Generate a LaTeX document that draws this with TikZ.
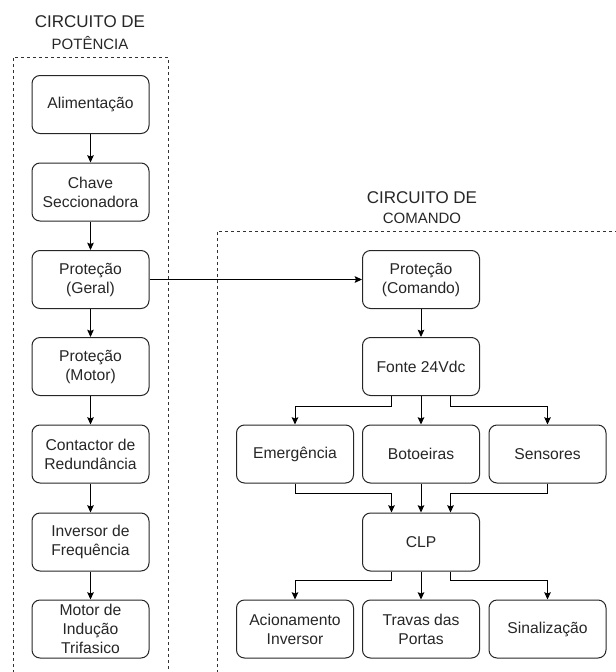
\documentclass[tikz,border=0pt]{standalone}
\usepackage{fontspec}
\setmainfont{Liberation Sans}
\usetikzlibrary{arrows.meta,calc}
\begin{document}
\begin{tikzpicture}[x=0.75pt,y=-0.75pt,
  box/.style={draw=black!85,line width=0.75pt,rounded corners=6pt,minimum width=87.75pt,minimum height=43.5pt,inner sep=0pt,align=center,text=black!85,font=\fontsize{11.75}{14.25}\selectfont},
  arr/.style={draw=black,line width=0.75pt,-{Stealth[length=5.5pt,width=5pt,inset=1pt]}},
  group/.style={draw=black!80,line width=0.75pt,dash pattern=on 2.25pt off 2.25pt},
  ttl/.style={text=black!85,inner sep=0pt,font=\fontsize{12.75}{15}\selectfont},
  ttlb/.style={text=black!85,inner sep=0pt,font=\fontsize{11.25}{14}\selectfont}]
\useasboundingbox (0,0) rectangle (615,672);
% group frames
\draw[group] (13,673) -- (13,57) -- (168,57) -- (168,673);
\draw[group] (217,673) -- (217,231) -- (616,231);
% titles
\node[ttl] (tp1) at (90,22) {CIRCUITO DE};
\node[ttlb] (tp2) at (90,43) {POTÊNCIA};
\node[ttl] (tc1) at (422,198) {CIRCUITO DE};
\node[ttlb] (tc2) at (422,218) {COMANDO};
% power column
\node[box] (ali) at (90.5,104.5) {Alimentação};
\node[box] (cha) at (90.5,192) {Chave\\Seccionadora};
\node[box] (pg) at (90.5,279.5) {Proteção\\(Geral)};
\node[box] (pm) at (90.5,366.5) {Proteção\\(Motor)};
\node[box] (con) at (90.5,454) {Contactor de\\Redundância};
\node[box] (inv) at (90.5,542) {Inversor de\\Frequência};
\node[box] (mot) at (90.5,629) {Motor de\\Indução\\Trifasico};
\draw[arr] (ali) -- (cha);
\draw[arr] (cha) -- (pg);
\draw[arr] (pg) -- (pm);
\draw[arr] (pm) -- (con);
\draw[arr] (con) -- (inv);
\draw[arr] (inv) -- (mot);
% command column
\node[box] (pc) at (421,279.5) {Proteção\\(Comando)};
\node[box] (fon) at (421,366.5) {Fonte 24Vdc};
\node[box] (eme) at (295,454) {Emergência};
\node[box] (bot) at (421,454) {Botoeiras};
\node[box] (sen) at (547.5,454) {Sensores};
\node[box] (clp) at (421,542) {CLP};
\node[box] (aci) at (295,629) {Acionamento\\Inversor};
\node[box] (tra) at (421,629) {Travas das\\Portas};
\node[box] (sin) at (547.5,629) {Sinalização};
\draw[arr] (pg.east) -- (pc.west);
\draw[arr] (pc) -- (fon);
\draw[arr] ($(fon.south west)!0.25!(fon.south east)$) -- ++(0,10) -| (eme.north);
\draw[arr] (fon) -- (bot);
\draw[arr] ($(fon.south west)!0.75!(fon.south east)$) -- ++(0,10) -| (sen.north);
\draw[arr] (eme.south) -- ++(0,10) -| ($(clp.north west)!0.25!(clp.north east)$);
\draw[arr] (bot) -- (clp);
\draw[arr] (sen.south) -- ++(0,10) -| ($(clp.north west)!0.75!(clp.north east)$);
\draw[arr] ($(clp.south west)!0.25!(clp.south east)$) -- ++(0,9) -| (aci.north);
\draw[arr] (clp) -- (tra);
\draw[arr] ($(clp.south west)!0.75!(clp.south east)$) -- ++(0,9) -| (sin.north);
\end{tikzpicture}
\end{document}
